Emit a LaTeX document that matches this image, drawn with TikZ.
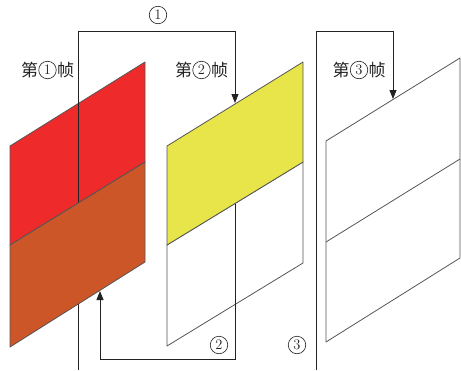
\documentclass[tikz,border=0pt]{standalone}
\usepackage{fontspec}
\newfontfamily\cjk{Noto Sans CJK SC}
\usetikzlibrary{arrows.meta}
\definecolor{fred}{HTML}{EE2A2A}
\definecolor{fbrown}{HTML}{CC5628}
\definecolor{fyellow}{HTML}{E8E54B}
\definecolor{lin}{HTML}{222222}
\definecolor{edge}{HTML}{555555}
\tikzset{
  frameedge/.style={draw=edge, line width=0.8pt, line join=round},
  conn/.style={draw=lin, line width=0.9pt},
  connarrow/.style={conn, -{Triangle[width=7pt,length=9pt]}},
  circnum/.style={circle, draw=lin, line width=0.6pt, inner sep=0pt, minimum size=17.5pt, font=\fontsize{14.5}{14.5}\selectfont, text=lin},
  cjkchar/.style={inner sep=0pt, font=\cjk\fontsize{17}{17}\selectfont, text=lin}
}
\begin{document}
\begin{tikzpicture}[x=1pt,y=-1pt]
\useasboundingbox (0,0) rectangle (461,370);
% frame 1 corners
\coordinate (a1) at (10,146); \coordinate (b1) at (145,62);
\coordinate (c1) at (145,162); \coordinate (d1) at (10,245);
\coordinate (e1) at (145,262); \coordinate (f1) at (10,347);
% frame 2
\coordinate (a2) at (167,146); \coordinate (b2) at (303,62);
\coordinate (c2) at (303,162); \coordinate (d2) at (167,245);
\coordinate (e2) at (303,263); \coordinate (f2) at (167,346);
% frame 3
\coordinate (a3) at (326,141); \coordinate (b3) at (460,58);
\coordinate (c3) at (460,159); \coordinate (d3) at (326,242);
\coordinate (e3) at (460,258); \coordinate (f3) at (326,342);

% frame 1 top (red)
\path[frameedge, fill=fred] (a1) -- (b1) -- (c1) -- (d1) -- cycle;
% connector 1
\coordinate (s1) at (78,370);
\coordinate (k1) at (78,31);
\coordinate (k2) at (235,31);
\coordinate (t1) at (235,103);
\draw[connarrow] (s1) -- (k1) -- (k2) -- (t1);
% frame 1 bottom (brown)
\path[frameedge, fill=fbrown] (d1) -- (c1) -- (e1) -- (f1) -- cycle;

% frame 2
\path[frameedge, fill=white] (d2) -- (c2) -- (e2) -- (f2) -- cycle;
\path[frameedge, fill=fyellow] (a2) -- (b2) -- (c2) -- (d2) -- cycle;

% connector 2
\coordinate (s2) at (235,203.5);
\coordinate (k3) at (235,359);
\coordinate (k4) at (100,359);
\coordinate (t2) at (100,291);
\draw[connarrow] (s2) -- (k3) -- (k4) -- (t2);

% frame 3
\path[frameedge] (a3) -- (b3) -- (e3) -- (f3) -- cycle;
\path[frameedge] (d3) -- (c3);

% connector 3
\coordinate (s3) at (316,370);
\coordinate (k5) at (316,31);
\coordinate (k6) at (393,31);
\coordinate (t3) at (393,99);
\draw[connarrow] (s3) -- (k5) -- (k6) -- (t3);

% labels
\node[circnum] (n1) at (158,15) {1};
\node[circnum] (n2) at (219,345) {2};
\node[circnum] (n3) at (297,345) {3};

\node[circnum] (f1c) at (47.5,70) {1};
\node[cjkchar] (f1l) at (29.5,70) {第};
\node[cjkchar] (f1r) at (65.5,70) {帧};

\node[circnum] (f2c) at (201.5,70) {2};
\node[cjkchar] (f2l) at (183.5,70) {第};
\node[cjkchar] (f2r) at (219.5,70) {帧};

\node[circnum] (f3c) at (359,70) {3};
\node[cjkchar] (f3l) at (341,70) {第};
\node[cjkchar] (f3r) at (377,70) {帧};
\end{tikzpicture}
\end{document}
